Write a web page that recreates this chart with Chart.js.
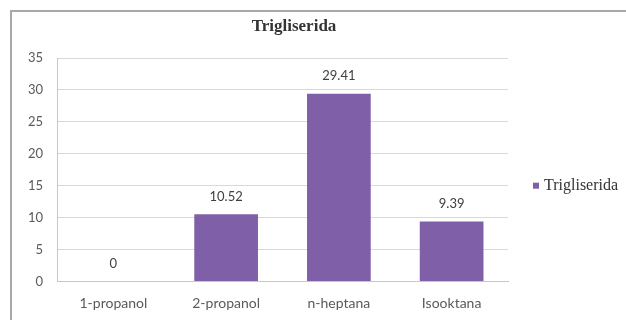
<!DOCTYPE html>
<html>
<head>
<meta charset="utf-8">
<script src="https://cdn.jsdelivr.net/npm/chart.js@4/dist/chart.umd.min.js"></script>
<style>
  html, body { margin: 0; padding: 0; background: #fff; }
  #wrap { position: relative; width: 626px; height: 320px; overflow: hidden; }
  #frame { position: absolute; left: 10px; top: 10px; width: 700px; height: 400px;
           border: 2px solid #a8a8a8; box-sizing: border-box; }
  canvas { position: absolute; left: 0; top: 0; }
</style>
</head>
<body>
<div id="wrap">
  <div id="frame"></div>
  <canvas id="c" width="626" height="320"></canvas>
</div>
<script>
const chartTitle = 'Trigliserida';
const categories = ['1-propanol', '2-propanol', 'n-heptana', 'Isooktana'];
const seriesName = 'Trigliserida';
const values = [0, 10.52, 29.41, 9.39];
const valueLabels = ['0', '10.52', '29.41', '9.39'];
const yTicks = [0, 5, 10, 15, 20, 25, 30, 35];

const BAR = '#7f60a8';
const SANS = 'Lato, "Open Sans", sans-serif';
const SERIF = '"Liberation Serif", "Times New Roman", serif';

// value labels above each bar
const valueLabelPlugin = {
  id: 'valueLabels',
  afterDatasetsDraw(chart) {
    const ctx = chart.ctx;
    const meta = chart.getDatasetMeta(0);
    ctx.save();
    ctx.font = '13px ' + SANS;
    ctx.fillStyle = '#404040';
    ctx.textAlign = 'center';
    ctx.textBaseline = 'middle';
    meta.data.forEach((bar, i) => {
      ctx.fillText(valueLabels[i], bar.x, bar.y - 18);
    });
    ctx.restore();
  }
};

// chart heading and series key
const headingAndKeyPlugin = {
  id: 'headingAndKey',
  afterDraw(chart) {
    const ctx = chart.ctx;
    const ds = chart.data.datasets[0];
    const area = chart.chartArea;
    ctx.save();
    ctx.font = 'bold 17px ' + SERIF;
    ctx.fillStyle = '#333';
    ctx.textAlign = 'center';
    ctx.textBaseline = 'middle';
    ctx.fillText(chartTitle, 294, 27);

    const cy = chart.scales.y.getPixelForValue(15);
    const x0 = area.right + 25;
    ctx.fillStyle = ds.backgroundColor;
    ctx.fillRect(x0, cy - 3, 6, 6);
    ctx.font = '16px ' + SERIF;
    ctx.fillStyle = '#333';
    ctx.textAlign = 'left';
    ctx.fillText(ds.label, x0 + 11, cy);
    ctx.restore();
  }
};

new Chart(document.getElementById('c'), {
  type: 'bar',
  data: {
    labels: categories,
    datasets: [{
      label: seriesName,
      data: values,
      backgroundColor: BAR,
      borderWidth: 0,
      categoryPercentage: 1.0,
      barPercentage: 0.565
    }]
  },
  options: {
    responsive: false,
    animation: false,
    layout: { padding: { left: 0, right: 118, top: 58, bottom: 0 } },
    plugins: {
      legend: { display: false },
      tooltip: { enabled: false },
      title: { display: false }
    },
    scales: {
      x: {
        grid: { display: false, drawTicks: false },
        border: { display: true, color: '#c8c8c8', width: 1 },
        ticks: { color: '#5a5a5a', font: { family: SANS, size: 14 }, padding: 14, maxRotation: 0 },
        afterFit(scale) { scale.height = 38.5; }
      },
      y: {
        min: 0,
        max: 35,
        afterBuildTicks(scale) { scale.ticks = yTicks.map(v => ({ value: v })); },
        grid: { color: '#d9d9d9', drawTicks: false },
        border: { display: true, color: '#c8c8c8', width: 1 },
        ticks: { color: '#5a5a5a', font: { family: SANS, size: 13 }, padding: 14 },
        afterFit(scale) { scale.width = 57; }
      }
    }
  },
  plugins: [valueLabelPlugin, headingAndKeyPlugin]
});
</script>
</body>
</html>
